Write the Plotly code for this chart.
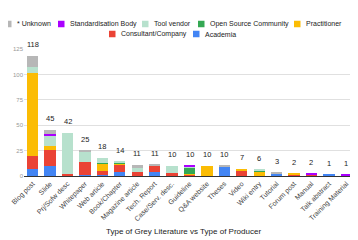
import plotly.graph_objects as go

categories = ["Blog post", "Slide", "Prj/Sofw desc", "Whitepaper", "Web article", "Book/Chapter",
              "Magazine article", "Tech. Report", "Case/Serv. desc.", "Guideline", "Q&A website",
              "Theses", "Video", "Wiki entry", "Tutorial", "Forum post", "Manual", "Talk abstract",
              "Training Material"]

academia =        [7, 10, 0, 1, 1, 4, 0, 4, 0, 0, 0, 9, 0, 0, 2, 0, 0, 1, 0]
consultant =      [13, 16, 2, 13, 4, 7, 4, 6, 3, 1, 0, 0, 5, 0, 0, 1, 1, 0, 0]
practitioner =    [81, 4, 0, 0, 7, 1, 0, 0, 0, 1, 10, 0, 2, 4, 0, 1, 0, 0, 0]
open_source =     [0, 0, 0, 0, 1, 1, 0, 0, 0, 6, 0, 0, 0, 1, 0, 0, 0, 0, 0]
tool_vendor =     [6, 10, 40, 10, 5, 1, 4, 0, 7, 1, 0, 0, 0, 1, 0, 0, 0, 0, 0]
standardisation = [0, 1, 0, 0, 0, 0, 0, 0, 0, 1, 0, 0, 0, 0, 0, 0, 1, 0, 1]
unknown =         [11, 4, 0, 1, 0, 0, 3, 1, 0, 0, 0, 1, 0, 0, 1, 0, 0, 0, 0]

series = [
    ("Academia", academia, "#4285F4"),
    ("Consultant/Company", consultant, "#EA4335"),
    ("Practitioner", practitioner, "#FBBC04"),
    ("Open Source Community", open_source, "#34A853"),
    ("Tool vendor", tool_vendor, "#B7E1CD"),
    ("Standardisation Body", standardisation, "#AA00FF"),
    ("* Unknown", unknown, "#B7B7B7"),
]

x_title = "Type of Grey Literature vs Type of Producer"

W, H = 358, 240
ML, MR, MT, MB = 16, 11, 41, 72
PW, PH = W - ML - MR, H - MT - MB


def px(x):
    return (x - ML) / PW


def py(y):
    return (H - MB - y) / PH


fig = go.Figure()
for name, vals, color in series:
    fig.add_trace(go.Bar(x=categories, y=vals, name=name, marker_color=color,
                         marker_line_width=0, showlegend=False))

totals = [sum(v[i] for _, v, _ in series) for i in range(len(categories))]
for c, t in zip(categories, totals):
    fig.add_annotation(x=c, y=t, text=str(t), showarrow=False, yanchor="bottom", yshift=5,
                       font=dict(size=7.5, color="#222222"))

# custom compact legend (swatch left pixel, row centre pixel)
legend_pos = {
    "* Unknown": (-3, 16),
    "Standardisation Body": (50, 16),
    "Tool vendor": (134, 16),
    "Open Source Community": (190, 16),
    "Practitioner": (286, 16),
    "Consultant/Company": (101, 26),
    "Academia": (185, 26),
}
colors = {n: c for n, _, c in series}
for name, (lx, ly) in legend_pos.items():
    fig.add_shape(type="rect", xref="paper", yref="paper",
                  x0=px(lx), x1=px(lx + 6.5), y0=py(ly + 3.25), y1=py(ly - 3.25),
                  fillcolor=colors[name], line_width=0)
    fig.add_annotation(xref="paper", yref="paper", x=px(lx + 10), y=py(ly), text=name,
                       showarrow=False, xanchor="left", yanchor="middle",
                       font=dict(size=7, color="#222222"))

# axis title, placed below the rotated tick labels
fig.add_annotation(xref="paper", yref="paper", x=px(175), y=py(223), text=x_title,
                   showarrow=False, xanchor="center", yanchor="middle",
                   font=dict(size=8, color="#222222"))

fig.update_layout(
    width=W, height=H,
    barmode="stack", bargap=0.35,
    margin=dict(l=ML, r=MR, t=MT, b=MB, autoexpand=False),
    paper_bgcolor="white", plot_bgcolor="white",
    font=dict(family="Liberation Sans, Arial, sans-serif", size=7, color="#444444"),
    showlegend=False,
    xaxis=dict(tickangle=-45, tickfont=dict(size=7, color="#444444"), showgrid=False,
               linecolor="#333333", showline=True, automargin=False),
    yaxis=dict(range=[0, 125], tickvals=[0, 25, 50, 75, 100, 125], gridcolor="#E0E0E0",
               tickfont=dict(size=6, color="#999999"), zeroline=False, ticks="", ticklen=0,
               automargin=False),
)
fig.write_html("out.html")
